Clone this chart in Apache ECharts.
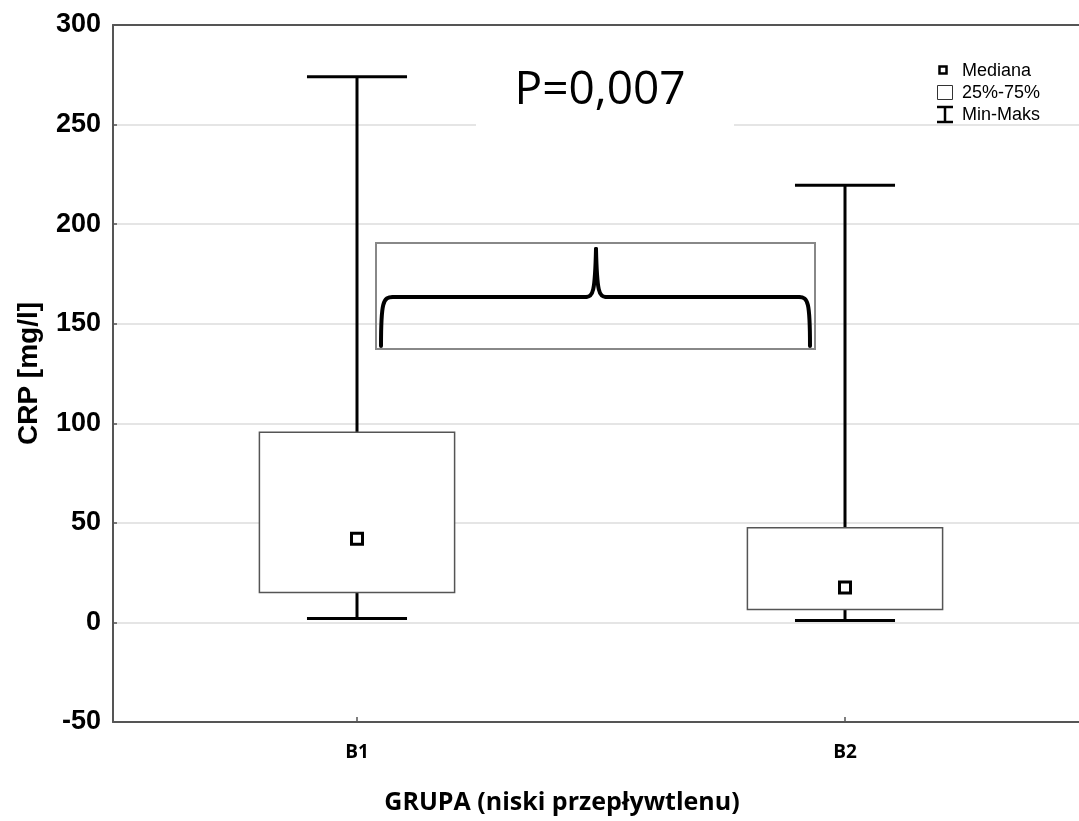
<!DOCTYPE html>
<html>
<head>
<meta charset="utf-8">
<script src="https://cdn.jsdelivr.net/npm/echarts@6/dist/echarts.min.js"></script>
<style>
  html, body { margin: 0; padding: 0; background: #fff; }
  #chart { width: 1079px; height: 821px; }
</style>
</head>
<body>
<div id="chart"></div>
<script>
// dane
var categories = ['B1', 'B2']
var minVals = [2, 1]
var q1Vals = [15, 6.5]
var medianVals = [42, 17.5]
var q3Vals = [95.5, 47.5]
var maxVals = [274, 219.5]
var yMin = -50
var yMax = 300
var yStep = 50

var boxData = categories.map(function (c, i) {
  return [i, minVals[i], q1Vals[i], medianVals[i], q3Vals[i], maxVals[i]]
})

var chartDom = document.getElementById('chart')
var myChart = echarts.init(chartDom)

function renderBox(params, api) {
  var idx = api.value(0)
  var band = api.size([1, 0])[0]
  var x = api.coord([idx, 0])[0]
  var yMinP = api.coord([idx, api.value(1)])[1]
  var yQ1 = api.coord([idx, api.value(2)])[1]
  var yMed = api.coord([idx, api.value(3)])[1]
  var yQ3 = api.coord([idx, api.value(4)])[1]
  var yMaxP = api.coord([idx, api.value(5)])[1]
  var boxW = band * 0.4
  var capW = band * 0.205
  var lineStyle = { stroke: '#000', lineWidth: 3, fill: null }
  var sq = 11
  return {
    type: 'group',
    children: [
      { type: 'line', shape: { x1: x, y1: yQ3, x2: x, y2: yMaxP }, style: lineStyle },
      { type: 'line', shape: { x1: x, y1: yQ1, x2: x, y2: yMinP }, style: lineStyle },
      { type: 'line', shape: { x1: x - capW / 2, y1: yMaxP, x2: x + capW / 2, y2: yMaxP }, style: lineStyle },
      { type: 'line', shape: { x1: x - capW / 2, y1: yMinP, x2: x + capW / 2, y2: yMinP }, style: lineStyle },
      {
        type: 'rect',
        shape: { x: x - boxW / 2, y: yQ3, width: boxW, height: yQ1 - yQ3 },
        style: { fill: '#fff', stroke: '#555', lineWidth: 1.5 }
      },
      {
        type: 'rect',
        shape: { x: x - sq / 2, y: yMed - sq / 2, width: sq, height: sq },
        style: { fill: '#fff', stroke: '#000', lineWidth: 3 }
      }
    ]
  }
}

var legendFont = '18px "Liberation Sans", Arial, sans-serif'
var braceStyle = { fill: null, stroke: '#000', lineWidth: 4, lineCap: 'round' }

var option = {
  animation: false,
  backgroundColor: '#fff',
  grid: {
    left: 113,
    top: 25,
    width: 976,
    height: 697,
    outerBoundsMode: 'none'
  },
  xAxis: [
    {
      type: 'category',
      data: categories,
      boundaryGap: true,
      axisLine: { show: true, onZero: false, lineStyle: { color: '#555', width: 2 } },
      axisTick: { show: true, inside: true, alignWithLabel: true, length: 5, lineStyle: { color: '#555', width: 1.5 } },
      axisLabel: {
        margin: 21,
        color: '#000',
        fontFamily: '"Open Sans", sans-serif',
        fontWeight: 'bold',
        fontSize: 19
      },
      name: 'GRUPA (niski przepływtlenu)',
      nameLocation: 'middle',
      nameGap: 68,
      nameTextStyle: {
        color: '#000',
        fontFamily: '"Open Sans", sans-serif',
        fontWeight: 'bold',
        fontSize: 25,
        padding: [0, 78, 0, 0]
      },
      splitLine: { show: false }
    },
    {
      type: 'category',
      position: 'top',
      data: categories,
      axisLine: { show: true, onZero: false, lineStyle: { color: '#555', width: 2 } },
      axisTick: { show: false },
      axisLabel: { show: false }
    }
  ],
  yAxis: {
    type: 'value',
    min: yMin,
    max: yMax,
    interval: yStep,
    axisLine: { show: true, lineStyle: { color: '#555', width: 2 } },
    axisTick: { show: true, inside: true, length: 4, lineStyle: { color: '#555', width: 1.5 } },
    axisLabel: {
      margin: 12,
      color: '#000',
      fontFamily: '"Liberation Sans", Arial, sans-serif',
      fontWeight: 'bold',
      fontSize: 27
    },
    splitLine: { show: true, lineStyle: { color: '#dcdcdc', width: 1.5 } },
    name: 'CRP [mg/l]',
    nameLocation: 'middle',
    nameGap: 70,
    nameTextStyle: {
      color: '#000',
      fontFamily: '"Liberation Sans", Arial, sans-serif',
      fontWeight: 'bold',
      fontSize: 28
    }
  },
  series: [
    {
      type: 'custom',
      name: 'CRP',
      renderItem: renderBox,
      encode: { x: 0, y: [1, 2, 3, 4, 5] },
      data: boxData,
      z: 5
    }
  ],
  graphic: [
    // tlo pod napisem P
    { type: 'rect', z: 10, shape: { x: 476, y: 58, width: 258, height: 70 }, style: { fill: '#fff' } },
    {
      type: 'text', z: 11, x: 600, y: 91,
      style: {
        text: 'P=0,007', fill: '#000',
        font: '46px "Open Sans", sans-serif',
        align: 'center', verticalAlign: 'middle'
      }
    },
    // klamra
    {
      type: 'rect', z: 10,
      shape: { x: 376, y: 243, width: 439, height: 106 },
      style: { fill: null, stroke: '#888', lineWidth: 2 }
    },
    { type: 'bezierCurve', z: 11, shape: { x1: 381, y1: 346, cpx1: 381, cpy1: 302, cpx2: 383, cpy2: 297, x2: 393, y2: 297 }, style: braceStyle },
    { type: 'line', z: 11, shape: { x1: 393, y1: 297, x2: 586, y2: 297 }, style: braceStyle },
    { type: 'bezierCurve', z: 11, shape: { x1: 586, y1: 297, cpx1: 593, cpy1: 297, cpx2: 595, cpy2: 292, x2: 596, y2: 249 }, style: braceStyle },
    { type: 'bezierCurve', z: 11, shape: { x1: 596, y1: 249, cpx1: 597, cpy1: 292, cpx2: 599, cpy2: 297, x2: 606, y2: 297 }, style: braceStyle },
    { type: 'line', z: 11, shape: { x1: 606, y1: 297, x2: 799, y2: 297 }, style: braceStyle },
    { type: 'bezierCurve', z: 11, shape: { x1: 799, y1: 297, cpx1: 808, cpy1: 297, cpx2: 810, cpy2: 302, x2: 810, y2: 346 }, style: braceStyle },
    // legenda
    { type: 'rect', z: 10, shape: { x: 939.5, y: 66.5, width: 7, height: 7 }, style: { fill: '#fff', stroke: '#000', lineWidth: 2.5 } },
    { type: 'text', z: 10, x: 962, y: 71, style: { text: 'Mediana', font: legendFont, fill: '#000', verticalAlign: 'middle' } },
    { type: 'rect', z: 10, shape: { x: 937.5, y: 85.5, width: 15, height: 14 }, style: { fill: '#fff', stroke: '#333', lineWidth: 1 } },
    { type: 'text', z: 10, x: 962, y: 93, style: { text: '25%-75%', font: legendFont, fill: '#000', verticalAlign: 'middle' } },
    { type: 'line', z: 10, shape: { x1: 937, y1: 107, x2: 953, y2: 107 }, style: { stroke: '#000', lineWidth: 2.5 } },
    { type: 'line', z: 10, shape: { x1: 945, y1: 107, x2: 945, y2: 122 }, style: { stroke: '#000', lineWidth: 2.5 } },
    { type: 'line', z: 10, shape: { x1: 937, y1: 122, x2: 953, y2: 122 }, style: { stroke: '#000', lineWidth: 2.5 } },
    { type: 'text', z: 10, x: 962, y: 115, style: { text: 'Min-Maks', font: legendFont, fill: '#000', verticalAlign: 'middle' } }
  ]
}

option && myChart.setOption(option)
</script>
</body>
</html>
